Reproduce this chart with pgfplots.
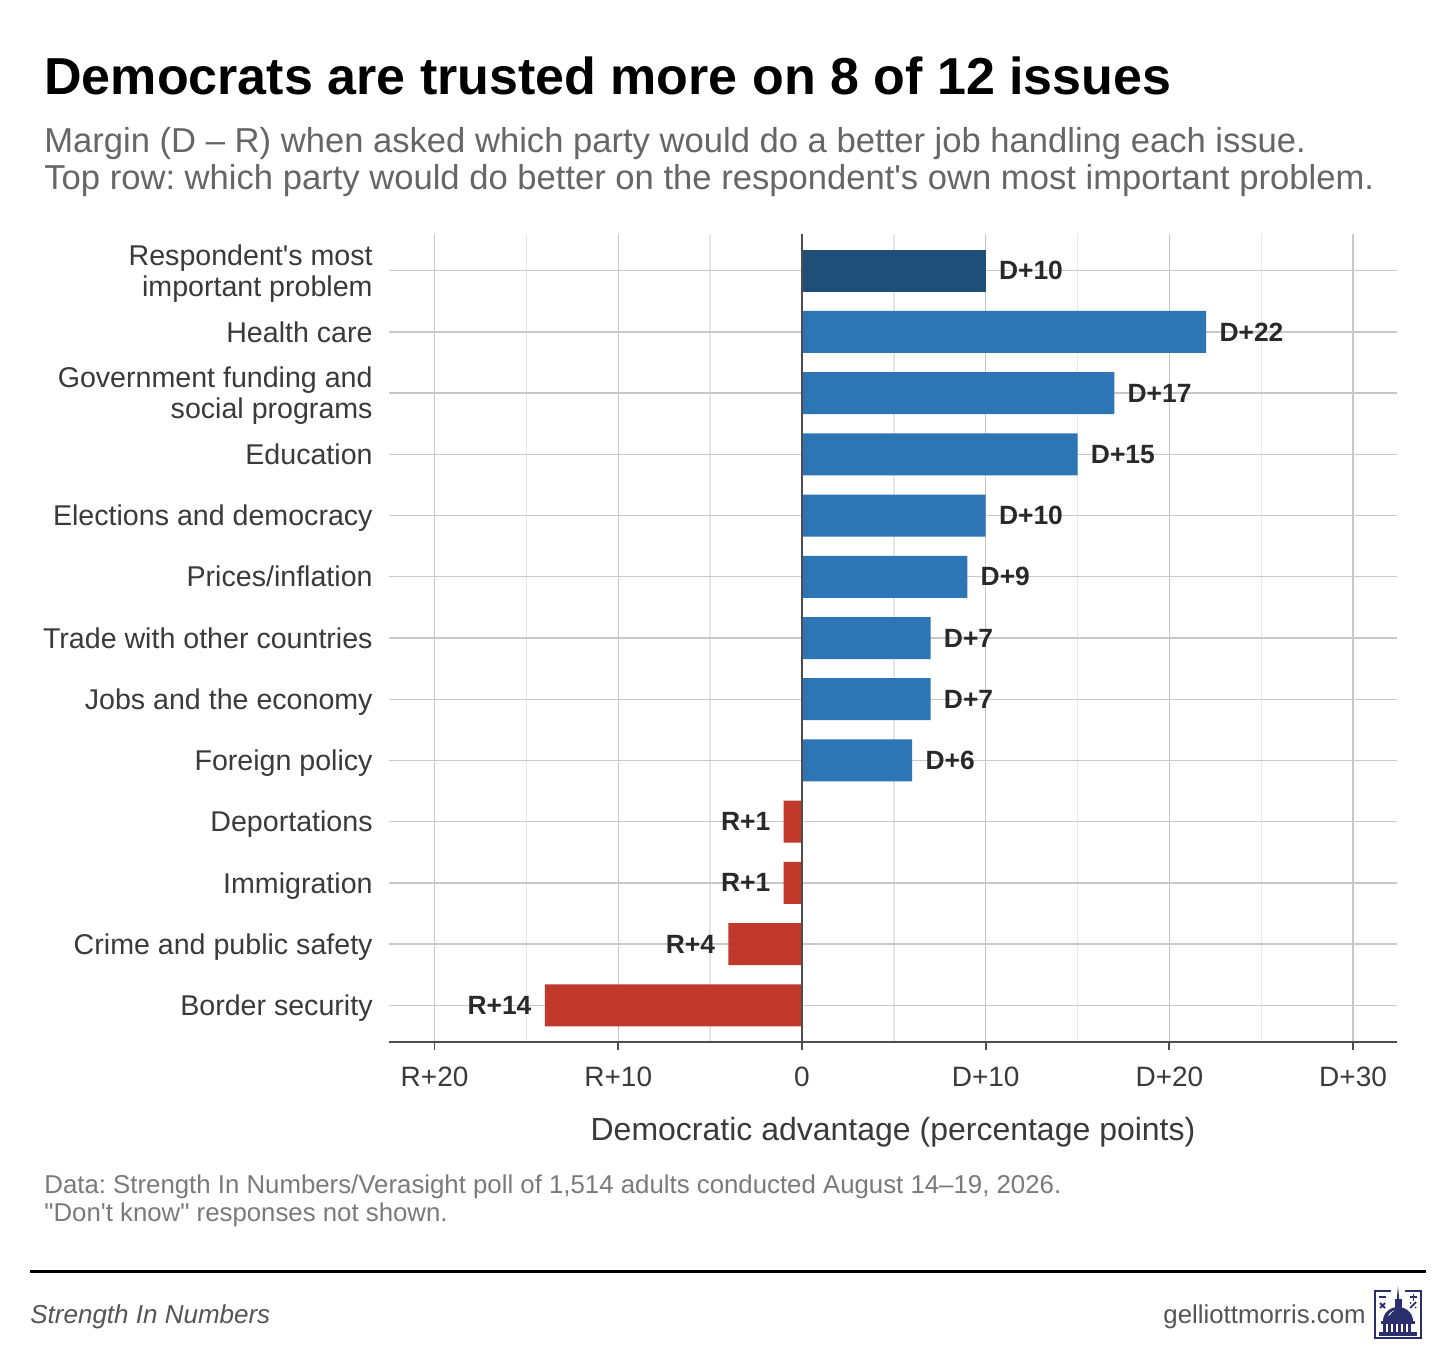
\documentclass[border=0pt]{standalone}
\usepackage{pgfplots}
\pgfplotsset{compat=1.18}
\usepackage{fontspec}
\setmainfont{Liberation Sans}[Ligatures=TeXOff]
\frenchspacing
\definecolor{navybar}{HTML}{1F4E79}
\definecolor{bluebar}{HTML}{2E75B6}
\definecolor{redbar}{HTML}{C0392B}
\definecolor{gridmaj}{HTML}{C8C8C8}
\definecolor{gridmin}{HTML}{E6E6E6}
\definecolor{axisgray}{HTML}{4D4D4D}
\definecolor{labelgray}{HTML}{3A3A3A}
\definecolor{subgray}{HTML}{666666}
\definecolor{capgray}{HTML}{7A7A7A}
\definecolor{foot}{HTML}{555555}
\definecolor{logonavy}{HTML}{2B2F6B}
\newcommand\Ts{\rule{0pt}{13.5pt}}
\newcommand\Bs{\rule[-3.3pt]{0pt}{3.3pt}}
\begin{document}
\begin{tikzpicture}[x=0.5pt,y=-0.5pt]
\path[fill=white] (0,0) rectangle (1456,1352);
% titles
\node[anchor=base west,inner sep=0pt,font=\bfseries\fontsize{26}{30}\selectfont] at (44,95) {Democrats are trusted more on 8 of 12 issues};
\node[anchor=base west,inner sep=0pt,text=subgray,font=\fontsize{17.3}{20}\selectfont] at (44,153) {Margin (D – R) when asked which party would do a better job handling each issue.};
\node[anchor=base west,inner sep=0pt,text=subgray,font=\fontsize{17.3}{20}\selectfont] at (44,190) {Top row: which party would do better on the respondent's own most important problem.};
% axis
\begin{axis}[
  at={(194.5pt,-521pt)}, anchor=south west,
  scale only axis, width=504pt, height=404pt,
  xmin=-22.48, xmax=32.39, ymin=-0.6, ymax=12.6,
  xbar, bar width=21pt, bar shift=0pt,
  separate axis lines,
  axis x line*=bottom, axis y line*=left,
  y axis line style={draw=none},
  x axis line style={draw=axisgray,line width=1pt,-},
  xtick={-20,-10,0,10,20,30},
  xticklabels={R+20,R+10,0,D+10,D+20,D+30},
  minor xtick={-15,-5,5,15,25},
  xtick align=outside, ytick align=inside,
  major tick length=4pt, minor tick length=0pt,
  xtick style={draw=axisgray,line width=0.9pt},
  ytick style={draw=none},
  ytick={0,...,12},
  yticklabels={\Ts\Bs Border security,\Ts\Bs Crime and public safety,\Ts\Bs Immigration,\Ts\Bs Deportations,\Ts\Bs Foreign policy,\Ts\Bs Jobs and the economy,\Ts\Bs Trade with other countries,\Ts\Bs Prices/inflation,\Ts\Bs Elections and democracy,\Ts\Bs Education,{\Ts Government funding and\\\Bs social programs},\Ts\Bs Health care,{\Ts Respondent's most\\\Bs important problem}},
  yticklabel style={align=right,inner sep=0pt,xshift=-8pt,text=labelgray,font=\fontsize{14.3}{15.5}\selectfont},
  xticklabel style={inner sep=0pt,yshift=-8.5pt,text=labelgray,font=\fontsize{14}{16}\selectfont},
  xmajorgrids, xminorgrids, ymajorgrids,
  major grid style={draw=gridmaj,line width=0.7pt},
  minor grid style={draw=gridmin,line width=0.7pt},
  xlabel={Democratic advantage (percentage points)},
  xlabel style={font=\fontsize{16}{19}\selectfont,text=labelgray,inner sep=0pt,anchor=base,at={(axis description cs:0.5,0)},yshift=-49pt},
  point meta=explicit symbolic,
  clip=false,
]
\addplot[fill=navybar,draw=none,nodes near coords,
  every node near coord/.append style={anchor=west,inner sep=0pt,xshift=6.5pt,text=labelgray!70!black,font=\bfseries\fontsize{13.2}{15}\selectfont}]
  coordinates {(10,12) [D+10]};
\addplot[fill=bluebar,draw=none,nodes near coords,
  every node near coord/.append style={anchor=west,inner sep=0pt,xshift=6.5pt,text=labelgray!70!black,font=\bfseries\fontsize{13.2}{15}\selectfont}]
  coordinates {(22,11) [D+22] (17,10) [D+17] (15,9) [D+15] (10,8) [D+10] (9,7) [D+9] (7,6) [D+7] (7,5) [D+7] (6,4) [D+6]};
\addplot[fill=redbar,draw=none,nodes near coords,
  every node near coord/.append style={anchor=east,inner sep=0pt,xshift=-6.5pt,text=labelgray!70!black,font=\bfseries\fontsize{13.2}{15}\selectfont}]
  coordinates {(-1,3) [R+1] (-1,2) [R+1] (-4,1) [R+4] (-14,0) [R+14]};
\draw[axisgray,line width=1pt] (axis cs:0,-0.6) -- (axis cs:0,12.6);
\end{axis}
% caption
\node[anchor=base west,inner sep=0pt,text=capgray,font=\fontsize{12.9}{15}\selectfont] at (44,1193) {Data: Strength In Numbers/Verasight poll of 1,514 adults conducted August 14–19, 2026.};
\node[anchor=base west,inner sep=0pt,text=capgray,font=\fontsize{12.9}{15}\selectfont] at (44,1221) {"Don't know" responses not shown.};
\draw[black,line width=1.5pt] (30,1271) -- (1426,1271);
\node[anchor=base west,inner sep=0pt,text=foot,font=\itshape\fontsize{13}{15}\selectfont] at (30,1323) {Strength In Numbers};
\node[anchor=base east,inner sep=0pt,text=foot,font=\fontsize{12.9}{15}\selectfont] at (1366,1323) {gelliottmorris.com};
% logo
\draw[logonavy,line width=1.3pt] (1391,1291) -- (1375,1291) -- (1375,1338) -- (1421,1338) -- (1421,1291) -- (1405,1291);
\fill[logonavy] (1383,1321) arc[start angle=180,end angle=0,x radius=7.5pt,y radius=7pt] -- cycle;
\fill[white] (1388,1316) arc[start angle=160,end angle=115,x radius=5pt,y radius=4.5pt] -- (1394,1311) arc[start angle=115,end angle=160,x radius=3.5pt,y radius=3pt] -- cycle;
\fill[logonavy] (1394.5,1308) rectangle (1401.5,1299);
\fill[logonavy] (1396.8,1299) -- (1398,1286) -- (1399.2,1299) -- cycle;
\fill[logonavy] (1381,1321) rectangle (1415,1324);
\foreach \c in {1383,1388,1393,1398,1403,1408} \fill[logonavy] (\c,1324) rectangle (\c+3,1332);
\fill[logonavy] (1379,1332) rectangle (1417,1336);
\draw[logonavy,line width=0.9pt] (1379,1297) -- (1386,1297);
\draw[logonavy,line width=0.9pt] (1380,1303) -- (1385,1308) (1385,1303) -- (1380,1308);
\draw[logonavy,line width=0.9pt] (1410,1297) -- (1417,1297) (1413.5,1293.5) -- (1413.5,1300.5);
\draw[logonavy,line width=0.9pt] (1410,1308) -- (1416,1302);
\fill[logonavy] (1410.5,1303) circle (1) (1415.5,1307.5) circle (1);
\end{tikzpicture}
\end{document}
